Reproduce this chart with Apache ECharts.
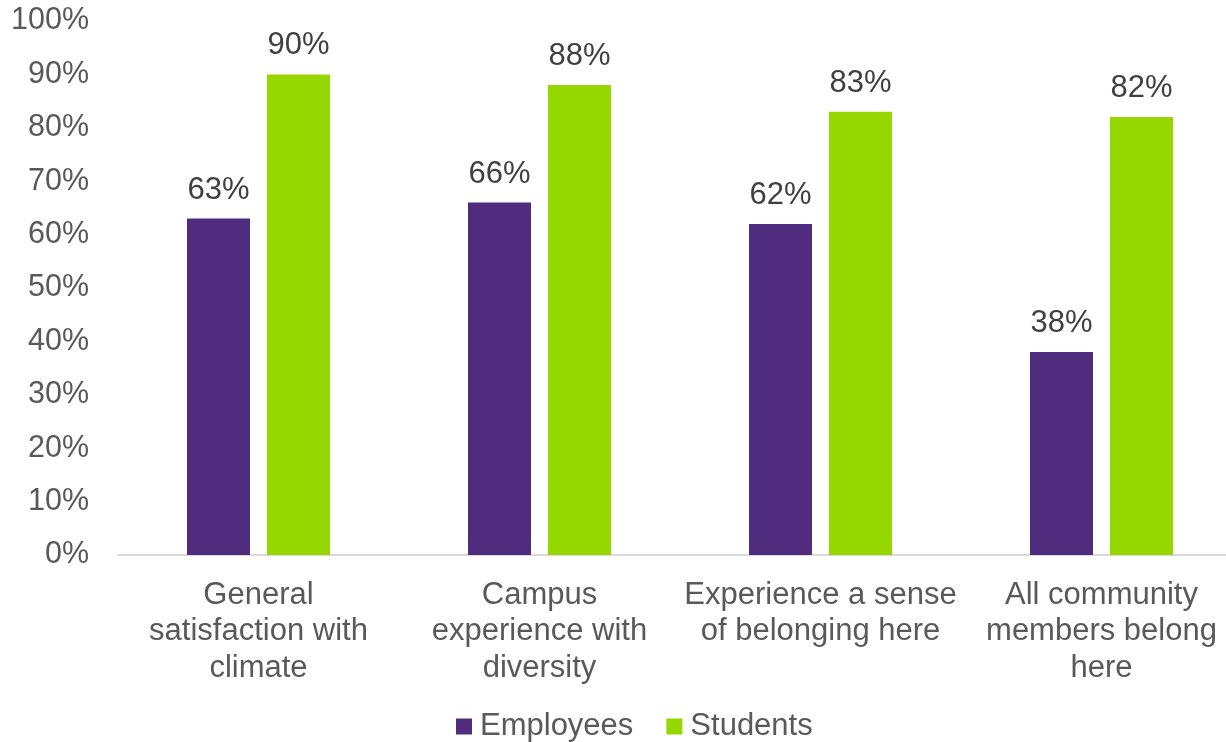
<!DOCTYPE html>
<html>
<head>
<meta charset="utf-8">
<script src="https://cdn.jsdelivr.net/npm/echarts@6/dist/echarts.min.js"></script>
<style>
html,body{margin:0;padding:0;background:#fff;overflow:hidden;}
#chart{width:1242px;height:742px;}
</style>
</head>
<body>
<div id="chart"></div>
<script>
const categories = [
  'General\nsatisfaction with\nclimate',
  'Campus\nexperience with\ndiversity',
  'Experience a sense\nof belonging here',
  'All community\nmembers belong\nhere'
];
const employees = [63, 66, 62, 38];
const students = [90, 88, 83, 82];
const yTicks = [0, 10, 20, 30, 40, 50, 60, 70, 80, 90, 100];

const FONT = 'Liberation Sans, Arial, sans-serif';
const TEXT = '#595959';

const chart = echarts.init(document.getElementById('chart'), null, {renderer: 'canvas'});
chart.setOption({
  animation: false,
  textStyle: {fontFamily: FONT},
  grid: {left: 118, top: 21, width: 1124, height: 534, containLabel: false},
  legend: {
    left: 451, top: 706,
    itemWidth: 16, itemHeight: 16, itemGap: 33,
    icon: 'rect',
    textStyle: {fontFamily: FONT, fontSize: 31, color: TEXT, padding: [0, 0, 0, 3]},
    data: ['Employees', 'Students']
  },
  xAxis: {
    type: 'category',
    data: categories,
    axisLine: {lineStyle: {color: '#d9d9d9', width: 2}},
    axisTick: {show: false},
    axisLabel: {fontFamily: FONT, fontSize: 31, color: TEXT, lineHeight: 36.5, margin: 22, interval: 0}
  },
  yAxis: {
    type: 'value',
    min: yTicks[0], max: yTicks[yTicks.length - 1], interval: 10,
    axisLine: {show: false},
    axisTick: {show: false},
    splitLine: {show: false},
    axisLabel: {fontFamily: FONT, fontSize: 30.5, color: TEXT, margin: 29, formatter: v => v + '%'}
  },
  series: [
    {
      name: 'Employees', type: 'bar', data: employees,
      barWidth: 63, barGap: '27%',
      itemStyle: {color: '#4F2C7D'},
      label: {show: true, position: 'top', distance: 13, fontFamily: FONT, fontSize: 31, color: '#404040', formatter: p => p.value + '%'}
    },
    {
      name: 'Students', type: 'bar', data: students,
      barWidth: 63,
      itemStyle: {color: '#97D700'},
      label: {show: true, position: 'top', distance: 13, fontFamily: FONT, fontSize: 31, color: '#404040', formatter: p => p.value + '%'}
    }
  ]
});
</script>
</body>
</html>
